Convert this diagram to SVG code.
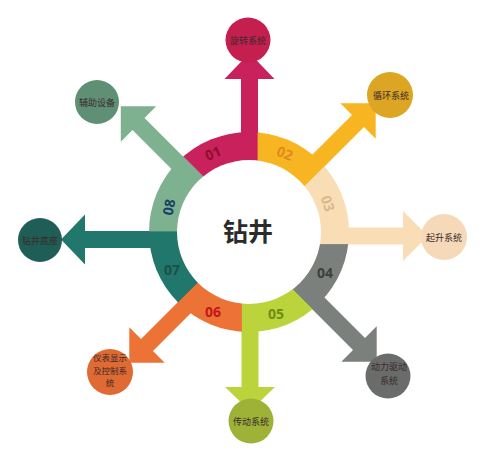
<svg xmlns="http://www.w3.org/2000/svg" width="485" height="462" viewBox="0 0 485 462">
<style>
.lbl{font-family:"Noto Sans CJK SC","Noto Sans",sans-serif;font-size:9px;text-anchor:middle;fill:#3a2a2a}
.sm{font-size:8.5px}
.num{font-family:"Open Sans","Noto Sans",sans-serif;font-size:14px;font-weight:700;text-anchor:middle}
.ttl{font-family:"Noto Sans CJK SC","Noto Sans",sans-serif;font-size:25px;font-weight:700;text-anchor:middle;fill:#2b2b2b}
</style>
<defs>
<clipPath id="ringclip"><circle cx="249" cy="232" r="100"/></clipPath>
</defs>
<rect width="485" height="462" fill="#ffffff"/>
<g id="connectors">
<polygon fill="#C9215B" points="241,236 241,79 224.5,79 249.5,53 274.5,79 258,79 258,236"/>
<polygon fill="#F8B522" points="241,226 352,115 340.3,103.3 375.7,103.3 375.7,138.7 364,127 253,238"/>
<polygon fill="#F9DDB5" points="249,227.5 403,227.5 403,211 428,236 403,261 403,244.5 249,244.5"/>
<polygon fill="#7B807C" points="256,229 365,338 376.7,326.3 376.7,361.7 341.3,361.7 353,350 244,241"/>
<polygon fill="#BCD43C" points="258.5,236 258.5,387 275,387 250,411 225,387 241.5,387 241.5,236"/>
<polygon fill="#EC7236" points="261,243 153,351 164.7,362.7 129.3,362.7 129.3,327.3 141,339 249,231"/>
<polygon fill="#21776C" points="250,248 85,248 85,264.5 61,239.5 85,214.5 85,231 250,231"/>
<polygon fill="#7DB190" points="244,241.5 132.5,130 120.8,141.7 120.8,106.3 156.2,106.3 144.5,118 256,229.5"/>
</g>
<g id="hub">
<g clip-path="url(#ringclip)" stroke-width="0.8">
<polygon fill="#C9215B" stroke="#C9215B" points="258,231.5 137.8,111.3 258,61.5"/>
<polygon fill="#F8B522" stroke="#F8B522" points="258,233 258,63 378.2,112.8"/>
<polygon fill="#F9DDB5" stroke="#F9DDB5" points="246.5,244.5 366.7,124.3 416.5,244.5"/>
<polygon fill="#7B807C" stroke="#7B807C" points="247.5,244.5 417.5,244.5 367.7,364.7"/>
<polygon fill="#BCD43C" stroke="#BCD43C" points="241.5,238.5 361.7,358.7 241.5,408.5"/>
<polygon fill="#EC7236" stroke="#EC7236" points="241.5,238.5 241.5,408.5 121.3,358.7"/>
<polygon fill="#21776C" stroke="#21776C" points="249,231 128.8,351.2 79,231"/>
<polygon fill="#7DB190" stroke="#7DB190" points="257.5,231 87.5,231 137.3,110.8"/>
</g>
<circle cx="249" cy="232" r="72" fill="#ffffff"/>
<text class="num" fill="#8E0F2E" transform="translate(215,158) rotate(-22)">01</text>
<text class="num" fill="#E08A1E" transform="translate(283,158) rotate(22)">02</text>
<text class="num" fill="#D9B88C" transform="translate(323,205) rotate(72)">03</text>
<text class="num" fill="#3B3F3D" x="325" y="278">04</text>
<text class="num" fill="#6E8E12" x="276" y="319">05</text>
<text class="num" fill="#C4161C" x="213" y="317">06</text>
<text class="num" fill="#1E4E48" x="172" y="275">07</text>
<text class="num" fill="#173F66" transform="translate(174,208) rotate(-80)">08</text>
<text class="ttl" x="248" y="241">钻井</text>
</g>
<g id="node1"><circle cx="248" cy="40" r="22.5" fill="#C41F4E"/><text class="lbl" x="248" y="43.5">旋转系统</text></g>
<g id="node2"><circle cx="390" cy="95" r="23" fill="#DDA524"/><text class="lbl" x="391" y="98.5">循环系统</text></g>
<g id="node3"><circle cx="444" cy="237" r="23" fill="#F5D9B8"/><text class="lbl" x="444" y="240.5">起升系统</text></g>
<g id="node4"><circle cx="388" cy="376" r="22.5" fill="#6A6C6B"/><text class="lbl" x="389" y="370" fill="#2e2e2e">动力驱动</text><text class="lbl" x="389" y="384" fill="#2e2e2e">系统</text></g>
<g id="node5"><circle cx="251" cy="421" r="22.5" fill="#9DB237"/><text class="lbl" x="251" y="424.5">传动系统</text></g>
<g id="node6"><circle cx="110" cy="372" r="23" fill="#E06A33"/><text class="lbl sm" x="110" y="361">仪表显示</text><text class="lbl sm" x="110" y="373.5">及控制系</text><text class="lbl sm" x="110" y="386">统</text></g>
<g id="node7"><circle cx="40" cy="240" r="22" fill="#1F5E56"/><text class="lbl" x="40" y="243.5" fill="#dcdcdc">钻井底座</text></g>
<g id="node8"><circle cx="97" cy="102" r="22" fill="#5F8F74"/><text class="lbl" x="97" y="105.5" fill="#1e2a22">辅助设备</text></g>
</svg>
